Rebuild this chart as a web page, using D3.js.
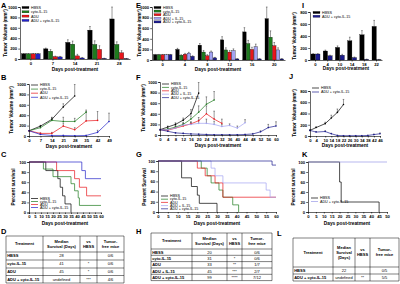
<!DOCTYPE html>
<html><head><meta charset="utf-8">
<script src="https://cdn.jsdelivr.net/npm/d3@7"></script>
<style>
body{margin:0;background:#fff}
svg{display:block;font-family:"Liberation Sans",Arial,sans-serif}
</style></head><body>
<svg id="fig" width="400" height="284"></svg>
<script>
//////////////////// Data ////////////////////
var namesA = ["HBSS", "cyto-IL-15", "ADU", "ADU + cyto-IL-15"];
var namesE = ["HBSS", "cyto-IL-15", "ADU", "ADU + IL-15", "ADU + cyto-IL-15"];
var namesI = ["HBSS", "ADU + cyto-IL-15"];

// A: bars
var daysA = ["0", "7", "14", "21", "28"];
var hbssA = [100, 195, 320, 555, 770], hbssAErr = [5, 15, 50, 70, 230];
var cytoA = [100, 150, 285, 280, 280], cytoAErr = [5, 30, 60, 70, 50];
var aduA = [100, 45, 60, 185, 120], aduAErr = [5, 10, 30, 70, 40];
var comboA = [100, 40, 20, 10, 5], comboAErr = [5, 10, 10, 5, 5];

// B: growth curves
var daysB = [0, 7, 14, 21, 28, 35, 42, 49];
var hbssB = [100, 190, 320, 560, 770], hbssBErr = [5, 15, 40, 60, 220];
var cytoB = [100, 160, 300, 280, 280, 460], cytoBErr = [5, 20, 50, 80, 60, 40];
var aduB = [100, 50, 50, 190, 120, 290, 300], aduBErr = [5, 10, 20, 60, 40, 170, 170];
var comboB = [100, 30, 10, 10, 5, 10, 70, 280], comboBErr = [5, 5, 5, 5, 5, 5, 40, 160];

// C: survival [day, percent]
var hbssC = [[0, 100], [14, 83], [24, 67], [26, 50], [28, 33], [30, 17], [35, 0]];
var cytoC = [[0, 100], [12, 86], [20, 71], [35, 57], [38, 43], [41, 29], [42, 14], [60, 14]];
var aduC = [[0, 100], [23, 83], [38, 67], [42, 50], [48, 33], [60, 33]];
var comboC = [[0, 100], [44, 83], [47, 67], [60, 67]];

// D: table
var headD = ["Treatment", "Median\nSurvival (Days)", "vs\nHBSS", "Tumor-\nfree mice"];
var rowsD = [["HBSS", "28", "", "0/6"], ["cyto-IL-15", "41", "*", "0/6"], ["ADU", "45", "*", "0/6"], ["ADU + cyto-IL-15", "undefined", "***", "4/6"]];

// E: bars
var daysE = ["0", "4", "8", "12", "16", "20"];
var hbssE = [100, 200, 280, 380, 530, 780], hbssEErr = [5, 20, 30, 60, 80, 220];
var cytoE = [100, 90, 150, 190, 310, 430], cytoEErr = [5, 10, 30, 40, 60, 120];
var aduE = [100, 110, 80, 150, 200, 270], aduEErr = [5, 15, 20, 30, 40, 60];
var ilE = [100, 130, 150, 180, 250, 190], ilEErr = [5, 15, 20, 30, 50, 40];
var comboE = [100, 70, 40, 20, 20, 20], comboEErr = [5, 10, 10, 5, 5, 5];

// F: growth curves
var daysF = [0, 4, 8, 12, 16, 20, 24, 28, 32, 36, 40, 44, 48, 52, 56, 60];
var hbssF = [100, 150, 200, 280, 400, 790], hbssFErr = [5, 20, 30, 40, 80, 200];
var cytoF = [100, 110, 150, 200, 300, 430, 580, 660], cytoFErr = [5, 10, 30, 40, 60, 120, 140, 160];
var aduF = [100, 90, 130, 170, 210, 270, 400, 300, 220], aduFErr = [5, 10, 20, 30, 40, 60, 150, 150, 80];
var ilF = [100, 100, 130, 190, 200, 220, 220, 200, 160, 180, 130, 230], ilFErr = [5, 10, 20, 30, 40, 60, 80, 60, 40, 30, 40, 60];
var comboF = [100, 70, 40, 30, 20, 15, 10, 5, 5, 5, 5, 10, 20, 60, 140, 170], comboFErr = [5, 5, 5, 5, 5, 5, 5, 5, 5, 5, 5, 5, 10, 20, 60, 80];

// G: survival
var hbssG = [[0, 100], [12, 67], [17, 50], [20, 33], [21, 17], [30, 0]];
var cytoG = [[0, 100], [22, 86], [25, 71], [27, 57], [31, 43], [33, 29], [38, 14], [41, 0]];
var aduG = [[0, 100], [20, 86], [24, 71], [29, 57], [33, 29], [60, 29]];
var ilG = [[0, 100], [27, 86], [29, 71], [33, 57], [55, 43], [57, 29], [60, 29]];
var comboG = [[0, 100], [58, 92], [60, 92]];

// H: table
var headH = ["Treatment", "Median\nSurvival (Days)", "vs\nHBSS", "Tumor-\nfree mice"];
var rowsH = [["HBSS", "20", "", "0/6"], ["cyto-IL-15", "31", "*", "0/6"], ["ADU", "33", "**", "1/7"], ["ADU + IL-15", "45", "***", "2/7"], ["ADU + cyto-IL-15", "99", "****", "7/12"]];

// I: bars
var daysI = ["0", "4", "10", "14", "18", "22"];
var hbssI = [100, 150, 210, 320, 420, 560], hbssIErr = [5, 15, 25, 60, 70, 100];
var comboI = [100, 70, 80, 40, 10, 5], comboIErr = [5, 10, 15, 10, 5, 5];

// J: growth curves
var daysJ = [0, 4, 10, 14, 18, 22, 26, 30, 34, 38, 42, 46];
var ticksJ = [0, 4, 10, 14, 18, 22, 26, 30, 34, 38, 42, 46];
var hbssJ = [100, 150, 220, 320, 420, 560], hbssJErr = [5, 15, 25, 50, 60, 90];
var comboJ = [100, 70, 80, 40, 10, 5, 5, 5, 5, 10, 25, 40], comboJErr = [5, 10, 15, 10, 5, 5, 5, 5, 5, 5, 10, 15];

// K: survival
var hbssK = [[0, 100], [20, 60], [21, 20], [45, 0]];
var comboK = [[0, 100], [50, 100]];

// L: table
var headL = ["Treatment", "Median\nSurvival\n(Days)", "vs\nHBSS", "Tumor-\nfree mice"];
var rowsL = [["HBSS", "22", "", "0/5"], ["ADU + cyto-IL-15", "undefined", "**", "5/5"]];

//////////////////// Styles ////////////////////
var cBlack = "#000000", cGreen = "#1e7b1e", cRed = "#e8161b", cLav = "#a3a3f2", cNavy = "#1d1d8f", cBlue = "#2424c8";
var fsTick = 4.2, fsTitle = 4.8, fsLeg = 3.7, fsTab = 4.0;

var svg = d3.select("#fig");

function letter(t, x, y) {
    svg.append("text").attr("x", x).attr("y", y).attr("font-size", 7.5).attr("font-weight", "bold").text(t);
}

function styleAxis(g) {
    g.selectAll("path,line").attr("stroke", "#000").attr("stroke-width", 0.6);
    g.selectAll("text").attr("font-size", fsTick).attr("font-weight", "bold").attr("font-family", "Liberation Sans, Arial, sans-serif");
}

function yTitle(t, x, yc) {
    svg.append("text").attr("transform", "translate(" + x + "," + yc + ") rotate(-90)")
        .attr("text-anchor", "middle").attr("font-size", fsTitle).attr("font-weight", "bold").text(t);
}
function xTitle(t, xc, y) {
    svg.append("text").attr("x", xc).attr("y", y).attr("text-anchor", "middle")
        .attr("font-size", fsTitle).attr("font-weight", "bold").text(t);
}

function errBar(g, x, yv, ye, w) {
    g.append("line").attr("x1", x).attr("x2", x).attr("y1", yv).attr("y2", ye).attr("stroke", "#000").attr("stroke-width", 0.4);
    g.append("line").attr("x1", x - w).attr("x2", x + w).attr("y1", ye).attr("y2", ye).attr("stroke", "#000").attr("stroke-width", 0.4);
}

function barChart(o) {
    var x = d3.scaleBand().domain(o.groups).range([o.left, o.right]).paddingInner(o.pad).paddingOuter(0.05);
    var xs = d3.scaleBand().domain(d3.range(o.series.length)).range([0, x.bandwidth()]).padding(0.08);
    var y = d3.scaleLinear().domain([0, o.ymax]).range([o.bottom, o.top]);
    var g = svg.append("g");
    o.series.forEach(function(s, si) {
        s.values.forEach(function(v, i) {
            var bx = x(o.groups[i]) + xs(si);
            g.append("rect").attr("x", bx).attr("y", y(v)).attr("width", xs.bandwidth())
                .attr("height", o.bottom - y(v)).attr("fill", s.color).attr("stroke", "#000").attr("stroke-width", 0.3);
            errBar(g, bx + xs.bandwidth() / 2, y(v), y(v + s.err[i]), 0.8);
        });
    });
    var ya = svg.append("g").attr("transform", "translate(" + o.left + ",0)")
        .call(d3.axisLeft(y).tickValues(o.ticks).tickSize(1.8).tickPadding(1).tickFormat(d3.format("d")));
    styleAxis(ya);
    var xa = svg.append("g").attr("transform", "translate(0," + o.bottom + ")")
        .call(d3.axisBottom(x).tickSize(1.5).tickPadding(1.5).tickSizeOuter(0));
    styleAxis(xa);
    return {x: x, y: y};
}

function lineChart(o) {
    var x = d3.scaleLinear().domain(o.xdom).range([o.left, o.right]);
    var y = d3.scaleLinear().domain([0, o.ymax]).range([o.bottom, o.top]).clamp(true);
    var g = svg.append("g");
    o.series.forEach(function(s) {
        var pts = s.values.map(function(v, i) { return [o.days[i], v, s.err[i]]; });
        pts.forEach(function(p) { errBar(g, x(p[0]), y(p[1]), y(p[1] + p[2]), 0.8); });
    });
    o.series.forEach(function(s) {
        var pts = s.values.map(function(v, i) { return [o.days[i], v]; });
        g.append("path").datum(pts).attr("fill", "none").attr("stroke", s.color).attr("stroke-width", 0.7)
            .attr("d", d3.line().x(function(d) { return x(d[0]); }).y(function(d) { return y(d[1]); }));
        g.selectAll(null).data(pts).enter().append("circle").attr("cx", function(d) { return x(d[0]); })
            .attr("cy", function(d) { return y(d[1]); }).attr("r", 0.8).attr("fill", s.color);
    });
    var ya = svg.append("g").attr("transform", "translate(" + o.left + ",0)")
        .call(d3.axisLeft(y).tickValues(o.yticks).tickSize(1.8).tickPadding(1).tickFormat(d3.format("d")));
    styleAxis(ya);
    var xa = svg.append("g").attr("transform", "translate(0," + o.bottom + ")")
        .call(d3.axisBottom(x).tickValues(o.xticks).tickSize(1.5).tickPadding(1.2).tickFormat(d3.format("d")));
    styleAxis(xa);
}

function survChart(o) {
    var x = d3.scaleLinear().domain(o.xdom).range([o.left, o.right]);
    var y = d3.scaleLinear().domain([0, 100]).range([o.bottom, o.top]);
    var g = svg.append("g");
    o.series.forEach(function(s) {
        g.append("path").datum(s.values).attr("fill", "none").attr("stroke", s.color).attr("stroke-width", 0.7)
            .attr("d", d3.line().curve(d3.curveStepAfter).x(function(d) { return x(d[0]); }).y(function(d) { return y(d[1]); }));
    });
    var ya = svg.append("g").attr("transform", "translate(" + o.left + ",0)")
        .call(d3.axisLeft(y).tickValues([0, 20, 40, 60, 80, 100]).tickSize(1.8).tickPadding(1));
    styleAxis(ya);
    var xa = svg.append("g").attr("transform", "translate(0," + o.bottom + ")")
        .call(d3.axisBottom(x).tickValues(o.xticks).tickSize(1.5).tickPadding(1.2));
    styleAxis(xa);
}

function legendSwatch(x, y, names, colors, dy) {
    names.forEach(function(n, i) {
        svg.append("rect").attr("x", x).attr("y", y + i * dy - 1.6).attr("width", 7).attr("height", 2.2)
            .attr("fill", colors[i]).attr("stroke", "#000").attr("stroke-width", 0.2);
        svg.append("text").attr("x", x + 9).attr("y", y + i * dy + 0.9).attr("font-size", fsLeg).text(n);
    });
}
function legendLine(x, y, names, colors, dy) {
    names.forEach(function(n, i) {
        svg.append("line").attr("x1", x).attr("x2", x + 7).attr("y1", y + i * dy).attr("y2", y + i * dy)
            .attr("stroke", colors[i]).attr("stroke-width", 0.7);
        svg.append("text").attr("x", x + 9).attr("y", y + i * dy + 1.2).attr("font-size", fsLeg).text(n);
    });
}

function table(cols, rows, head, body) {
    var g = svg.append("g");
    var top = rows[0], bot = rows[rows.length - 1];
    rows.forEach(function(r) {
        g.append("line").attr("x1", cols[0]).attr("x2", cols[cols.length - 1]).attr("y1", r).attr("y2", r).attr("stroke", "#000").attr("stroke-width", 0.5);
    });
    cols.forEach(function(c) {
        g.append("line").attr("x1", c).attr("x2", c).attr("y1", top).attr("y2", bot).attr("stroke", "#000").attr("stroke-width", 0.5);
    });
    head.forEach(function(h, i) {
        var lines = h.split("\n");
        var cx = i === 0 ? (cols[0] + cols[1]) / 2 : (cols[i] + cols[i + 1]) / 2;
        var cy = (rows[0] + rows[1]) / 2;
        lines.forEach(function(l, k) {
            g.append("text").attr("x", cx).attr("y", cy + (k - (lines.length - 1) / 2) * 5 + 1.4)
                .attr("text-anchor", "middle").attr("font-size", fsTab).attr("font-weight", "bold").text(l);
        });
    });
    body.forEach(function(row, r) {
        var cy = (rows[r + 1] + rows[r + 2]) / 2 + 1.4;
        row.forEach(function(t, i) {
            var cx = i === 0 ? cols[0] + 1.2 : (cols[i] + cols[i + 1]) / 2;
            g.append("text").attr("x", cx).attr("y", cy).attr("text-anchor", i === 0 ? "start" : "middle")
                .attr("font-size", fsTab).attr("font-weight", i === 0 ? "bold" : "normal").text(t);
        });
    });
}

//////////////////// Panels ////////////////////
var colorsA = [cBlack, cGreen, cRed, cBlue];
var colorsE = [cBlack, cGreen, cRed, cLav, cNavy];
var colorsI = [cBlack, cNavy];

// A
letter("A", 1, 8);
barChart({groups: daysA, left: 20, right: 130, top: 7, bottom: 59, ymax: 1000, pad: 0.12, ticks: [0, 200, 400, 600, 800, 1000],
    series: [{values: hbssA, err: hbssAErr, color: cBlack}, {values: cytoA, err: cytoAErr, color: cGreen},
             {values: aduA, err: aduAErr, color: cRed}, {values: comboA, err: comboAErr, color: colorsA[3]}]});
yTitle("Tumor Volume (mm³)", 7, 33);
xTitle("Days post-treatment", 75, 71);
legendSwatch(22, 8, namesA, colorsA, 4.3);

// B
letter("B", 1, 80);
lineChart({days: daysB, xdom: [0, 49], left: 29, right: 109, top: 84, bottom: 136, ymax: 1000,
    yticks: [0, 200, 400, 600, 800, 1000], xticks: daysB,
    series: [{values: hbssB, err: hbssBErr, color: cBlack}, {values: cytoB, err: cytoBErr, color: cGreen},
             {values: aduB, err: aduBErr, color: cRed}, {values: comboB, err: comboBErr, color: cBlue}]});
yTitle("Tumor Volume (mm³)", 13, 110);
xTitle("Days post-treatment", 69, 148);
legendLine(31, 85, namesA, colorsA, 4.1);

// C
letter("C", 1, 157);
survChart({xdom: [0, 60], left: 29, right: 101, top: 162, bottom: 212.5, xticks: d3.range(0, 61, 5),
    series: [{values: hbssC, color: cBlack}, {values: cytoC, color: cGreen}, {values: aduC, color: cRed}, {values: comboC, color: cBlue}]});
yTitle("Percent survival", 15, 187);
xTitle("Days post-treatment", 65, 225);
legendLine(31, 198.5, namesA, colorsA, 3);

// D
letter("D", 1, 234);
table([6, 43, 80, 97, 124], [236, 252, 260, 268, 275.5, 283], headD, rowsD);

// E
letter("E", 136, 8);
barChart({groups: daysE, left: 152, right: 285, top: 7, bottom: 60, ymax: 1000, pad: 0.14, ticks: [0, 200, 400, 600, 800, 1000],
    series: [{values: hbssE, err: hbssEErr, color: cBlack}, {values: cytoE, err: cytoEErr, color: cGreen},
             {values: aduE, err: aduEErr, color: cRed}, {values: ilE, err: ilEErr, color: cLav}, {values: comboE, err: comboEErr, color: cNavy}]});
yTitle("Tumor Volume (mm³)", 141, 33);
xTitle("Days post-treatment", 218, 71);
legendSwatch(154, 8, namesE, colorsE, 3.6);

// F
letter("F", 136, 80);
lineChart({days: daysF, xdom: [0, 60], left: 160, right: 276, top: 82, bottom: 135, ymax: 1000,
    yticks: [0, 200, 400, 600, 800, 1000], xticks: daysF,
    series: [{values: hbssF, err: hbssFErr, color: cBlack}, {values: cytoF, err: cytoFErr, color: cGreen},
             {values: aduF, err: aduFErr, color: cRed}, {values: ilF, err: ilFErr, color: cLav}, {values: comboF, err: comboFErr, color: cNavy}]});
yTitle("Tumor Volume (mm³)", 145, 108);
xTitle("Days post-treatment", 218, 147);
legendLine(162, 84, namesE, colorsE, 3.4);

// G
letter("G", 136, 157);
survChart({xdom: [0, 60], left: 158, right: 276, top: 161, bottom: 212, xticks: d3.range(0, 61, 5),
    series: [{values: hbssG, color: cBlack}, {values: cytoG, color: cGreen}, {values: aduG, color: cRed},
             {values: ilG, color: cLav}, {values: comboG, color: cNavy}]});
yTitle("Percent Survival", 146, 187);
xTitle("Days post-treatment", 217, 225);
legendLine(161, 196, namesE, colorsE, 3.2);

// H
letter("H", 136, 234);
table([151, 192, 227, 242, 272], [233, 249, 255.3, 261.6, 268, 274.3, 280.6], headH, rowsH);

// I
letter("I", 302, 8);
barChart({groups: daysI, left: 310, right: 382, top: 12, bottom: 60, ymax: 800, pad: 0.2, ticks: [0, 200, 400, 600, 800],
    series: [{values: hbssI, err: hbssIErr, color: cBlack}, {values: comboI, err: comboIErr, color: cNavy}]});
yTitle("Tumor Volume (mm³)", 296, 36);
xTitle("Days post-treatment", 346, 70);
legendSwatch(313, 13, namesI, colorsI, 3.8);

// J
letter("J", 289, 79);
lineChart({days: daysJ, xdom: [0, 46], left: 310, right: 380, top: 91, bottom: 136, ymax: 800,
    yticks: [0, 200, 400, 600, 800], xticks: ticksJ,
    series: [{values: hbssJ, err: hbssJErr, color: cBlack}, {values: comboJ, err: comboJErr, color: cNavy}]});
yTitle("Tumor Volume (mm³)", 296, 113);
xTitle("Days post-treatment", 345, 147);
legendLine(312, 88, namesI, colorsI, 4);

// K
letter("K", 302, 157);
survChart({xdom: [0, 50], left: 308, right: 387, top: 162, bottom: 212, xticks: d3.range(0, 51, 5),
    series: [{values: hbssK, color: cBlack}, {values: comboK, color: "#9a9ae6"}]});
yTitle("Percent survival", 295, 187);
xTitle("Days post-treatment", 347, 225);
legendLine(311, 198, namesI, [cBlack, "#9a9ae6"], 3.5);

// L
letter("L", 277, 236);
table([293, 333, 355, 370, 399], [238, 267, 274, 281], headL, rowsL);
</script>
</body></html>
